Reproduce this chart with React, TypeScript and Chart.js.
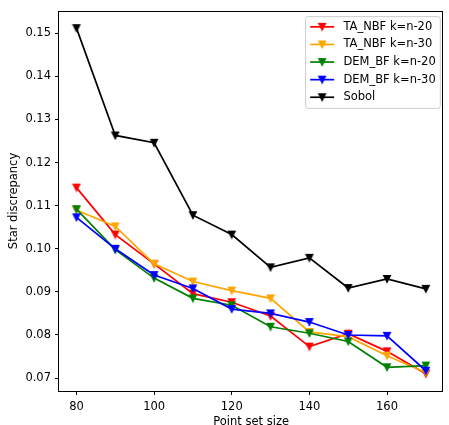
import React, { useEffect, useRef } from 'react';
import { Chart, registerables } from 'chart.js';

Chart.register(...registerables);

const pointSetSizes = [80, 90, 100, 110, 120, 130, 140, 150, 160, 170];
const taNbf20 = [0.1142, 0.1033, 0.0965, 0.0896, 0.0876, 0.0844, 0.0773, 0.0803, 0.0762, 0.0710];
const taNbf30 = [0.1090, 0.1052, 0.0965, 0.0924, 0.0903, 0.0885, 0.0807, 0.0796, 0.0752, 0.0713];
const demBf20 = [0.1092, 0.0998, 0.0932, 0.0885, 0.0869, 0.0819, 0.0804, 0.0785, 0.0725, 0.0729];
const demBf30 = [0.1073, 0.1000, 0.0939, 0.0908, 0.0860, 0.0850, 0.0830, 0.0800, 0.0798, 0.0717];
const sobol = [0.1512, 0.1263, 0.1246, 0.1078, 0.1033, 0.0957, 0.0979, 0.0909, 0.0930, 0.0907];

const seriesLabels = ['TA_NBF k=n-20', 'TA_NBF k=n-30', 'DEM_BF k=n-20', 'DEM_BF k=n-30', 'Sobol'];
const seriesValues = [taNbf20, taNbf30, demBf20, demBf30, sobol];
const seriesColors = ['#ff0000', '#ffa500', '#008000', '#0000ff', '#000000'];

const xTicks = [80, 100, 120, 140, 160];
const yTicks = [0.07, 0.08, 0.09, 0.10, 0.11, 0.12, 0.13, 0.14, 0.15];

const FONT = '"DejaVu Sans", sans-serif';
const FS = 11.5;

function makeMarker(color: string): HTMLCanvasElement {
  const c = document.createElement('canvas');
  c.width = 10;
  c.height = 10;
  const g = c.getContext('2d')!;
  g.beginPath();
  g.moveTo(1.5, 1.6);
  g.lineTo(8.5, 1.6);
  g.lineTo(5, 8.5);
  g.closePath();
  g.fillStyle = color;
  g.fill();
  g.strokeStyle = color;
  g.lineWidth = 1.1;
  g.lineJoin = 'miter';
  g.stroke();
  return c;
}

const framePlugin = {
  id: 'frame',
  afterDatasetsDraw(chart: any) {
    const { ctx, chartArea } = chart;
    ctx.save();
    ctx.strokeStyle = '#000';
    ctx.lineWidth = 1;
    const l = Math.round(chartArea.left) - 0.5;
    const t = Math.round(chartArea.top) + 0.5;
    const r = Math.round(chartArea.right) - 0.5;
    const b = Math.round(chartArea.bottom) + 0.5;
    ctx.strokeRect(l, t, r - l, b - t);
    ctx.restore();
  },
};

const legendPlugin = {
  id: 'mplLegend',
  afterDraw(chart: any) {
    const { ctx, chartArea } = chart;
    const markers: HTMLCanvasElement[] = chart.$markers || [];
    ctx.save();
    ctx.font = `${FS}px ${FONT}`;
    let maxW = 0;
    chart.data.datasets.forEach((d: any) => {
      maxW = Math.max(maxW, ctx.measureText(d.label).width);
    });
    const pad = 4.6;
    const handleLen = 24;
    const handleGap = 9.2;
    const rowH = 17.6;
    const n = chart.data.datasets.length;
    const w = pad + handleLen + handleGap + maxW + pad;
    const h = pad * 2 + rowH * n - 5.5;
    const right = chartArea.right - 3;
    const top = chartArea.top + 5.75;
    const left = right - w;
    const rad = 2.5;
    ctx.beginPath();
    ctx.moveTo(left + rad, top);
    ctx.lineTo(right - rad, top);
    ctx.quadraticCurveTo(right, top, right, top + rad);
    ctx.lineTo(right, top + h - rad);
    ctx.quadraticCurveTo(right, top + h, right - rad, top + h);
    ctx.lineTo(left + rad, top + h);
    ctx.quadraticCurveTo(left, top + h, left, top + h - rad);
    ctx.lineTo(left, top + rad);
    ctx.quadraticCurveTo(left, top, left + rad, top);
    ctx.closePath();
    ctx.fillStyle = 'rgba(255,255,255,0.8)';
    ctx.fill();
    ctx.strokeStyle = '#cccccc';
    ctx.lineWidth = 1;
    ctx.stroke();
    chart.data.datasets.forEach((d: any, i: number) => {
      const cy = top + pad + 5.6 + i * rowH;
      const x0 = left + pad;
      ctx.strokeStyle = d.borderColor;
      ctx.lineWidth = 1.7;
      ctx.beginPath();
      ctx.moveTo(x0, cy);
      ctx.lineTo(x0 + handleLen, cy);
      ctx.stroke();
      const m = markers[i];
      if (m) ctx.drawImage(m, x0 + handleLen / 2 - m.width / 2, cy - m.height / 2);
      ctx.fillStyle = '#000';
      ctx.textBaseline = 'middle';
      ctx.textAlign = 'left';
      ctx.fillText(d.label, x0 + handleLen + handleGap, cy);
    });
    ctx.restore();
  },
};

export default function App() {
  const ref = useRef<HTMLCanvasElement | null>(null);

  useEffect(() => {
    if (!ref.current) return;
    const markers = seriesColors.map((c) => makeMarker(c));
    const datasets = seriesLabels.map((label, i) => ({
      label,
      data: pointSetSizes.map((x, j) => ({ x, y: seriesValues[i][j] })),
      borderColor: seriesColors[i],
      backgroundColor: seriesColors[i],
      borderWidth: 1.7,
      pointStyle: markers[i],
      pointRadius: 4,
      pointHoverRadius: 4,
      tension: 0,
      fill: false,
      order: seriesLabels.length - 1 - i,
    }));
    const chart: any = new Chart(ref.current, {
      type: 'line',
      data: { datasets },
      plugins: [framePlugin, legendPlugin],
      options: {
        animation: false,
        responsive: false,
        maintainAspectRatio: false,
        layout: { padding: { top: 8, right: 1, left: 0, bottom: 0 } },
        plugins: { legend: { display: false }, tooltip: { enabled: false } },
        scales: {
          x: {
            type: 'linear',
            min: 75.5,
            max: 174.5,
            afterBuildTicks: (s: any) => {
              s.ticks = xTicks.map((v) => ({ value: v }));
            },
            afterFit: (s: any) => {
              s.height = 34;
            },
            ticks: {
              autoSkip: false,
              maxRotation: 0,
              padding: 5,
              color: '#000',
              font: { family: FONT, size: FS },
              callback: (v: any) => String(v),
            },
            grid: { drawOnChartArea: false, drawTicks: true, tickLength: 4, color: '#000', lineWidth: 1 },
            border: { display: false },
            title: {
              display: true,
              text: 'Point set size',
              color: '#000',
              font: { family: FONT, size: FS },
              padding: { top: 0, bottom: -3.5 },
            },
          },
          y: {
            type: 'linear',
            min: 0.0670,
            max: 0.1552,
            afterBuildTicks: (s: any) => {
              s.ticks = yTicks.map((v) => ({ value: v }));
            },
            afterFit: (s: any) => {
              s.width = 59;
            },
            ticks: {
              autoSkip: false,
              padding: 4,
              color: '#000',
              font: { family: FONT, size: FS },
              callback: (v: any) => Number(v).toFixed(2),
            },
            grid: { drawOnChartArea: false, drawTicks: true, tickLength: 4, color: '#000', lineWidth: 1 },
            border: { display: false },
            title: {
              display: true,
              text: 'Star discrepancy',
              color: '#000',
              font: { family: FONT, size: FS },
              padding: { top: 7, bottom: 0 },
            },
          },
        },
      },
    } as any);
    chart.$markers = markers;
    chart.draw();
    return () => chart.destroy();
  }, []);

  return (
    <div style={{ position: 'fixed', left: 0, top: 0, width: 449, height: 425, background: '#fff' }}>
      <canvas ref={ref} width={449} height={425} style={{ display: 'block', width: 449, height: 425 }} />
    </div>
  );
}
